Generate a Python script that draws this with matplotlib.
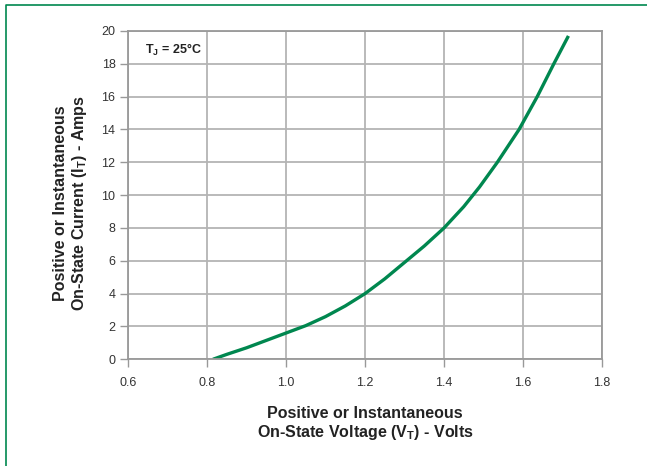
import matplotlib
matplotlib.use("Agg")
import matplotlib.pyplot as plt
from matplotlib.lines import Line2D

voltage = [0.815, 0.85, 0.9, 0.95, 1.0, 1.05, 1.1, 1.15, 1.2, 1.25, 1.3, 1.35,
           1.4, 1.45, 1.49, 1.535, 1.59, 1.636, 1.678, 1.715]
current = [0.0, 0.3, 0.7, 1.15, 1.6, 2.05, 2.6, 3.25, 4.0, 4.9, 5.9, 6.9,
           8.0, 9.3, 10.5, 12.0, 14.0, 16.0, 18.0, 19.7]

x_ticks = [0.6, 0.8, 1.0, 1.2, 1.4, 1.6, 1.8]
y_ticks = list(range(0, 21, 2))

GREEN = "#00874f"
GRID = "#b4b4b4"

plt.rcParams["font.family"] = ["Liberation Sans", "DejaVu Sans"]
plt.rcParams["mathtext.default"] = "regular"

fig = plt.figure(figsize=(6.47, 4.66), dpi=100)
fig.set_facecolor("white")
ax = fig.add_axes([128/647, 1-359.3/466, (602-128)/647, (359.3-31)/466])

ax.plot(voltage, current, color=GREEN, lw=2.4, solid_capstyle="butt")

ax.set_xlim(0.6, 1.8)
ax.set_ylim(0, 20)
ax.set_xticks(x_ticks)
ax.set_xticklabels([f"{v:.1f}" for v in x_ticks])
ax.set_yticks(y_ticks)
ax.grid(True, color=GRID, lw=1.3)
ax.set_axisbelow(True)
for s in ax.spines.values():
    s.set_color("#999999")
    s.set_linewidth(1.3)
ax.tick_params(length=6, width=1.0, color="#999999", labelsize=9,
               labelcolor="#333333")
ax.tick_params(axis="x", pad=7)
ax.tick_params(axis="y", pad=3)

ax.text(0.036, 0.941, r"T$_J$ = 25°C", transform=ax.transAxes, fontsize=9,
        fontweight="bold", va="center", ha="left", color="#222222")

fig.text(365/647, 1-424/466,
         "Positive or Instantaneous\nOn-State Voltage (V$_T$) - Volts",
         ha="center", va="center", fontweight="bold",
         fontsize=11.5, color="#222222", linespacing=1.2)
fig.text(71/647, 1-203/466,
         "Positive or Instantaneous\nOn-State Current (I$_T$) - Amps",
         ha="center", va="center", rotation=90,
         fontweight="bold", fontsize=11.5, color="#222222", linespacing=1.2)

# green page frame (left and top edges)
fig.add_artist(Line2D([6/647, 6/647, 1.0], [0.0, 1-5/466, 1-5/466],
                      transform=fig.transFigure, color=GREEN, lw=1.2))

fig.savefig("out.png", dpi=100)
